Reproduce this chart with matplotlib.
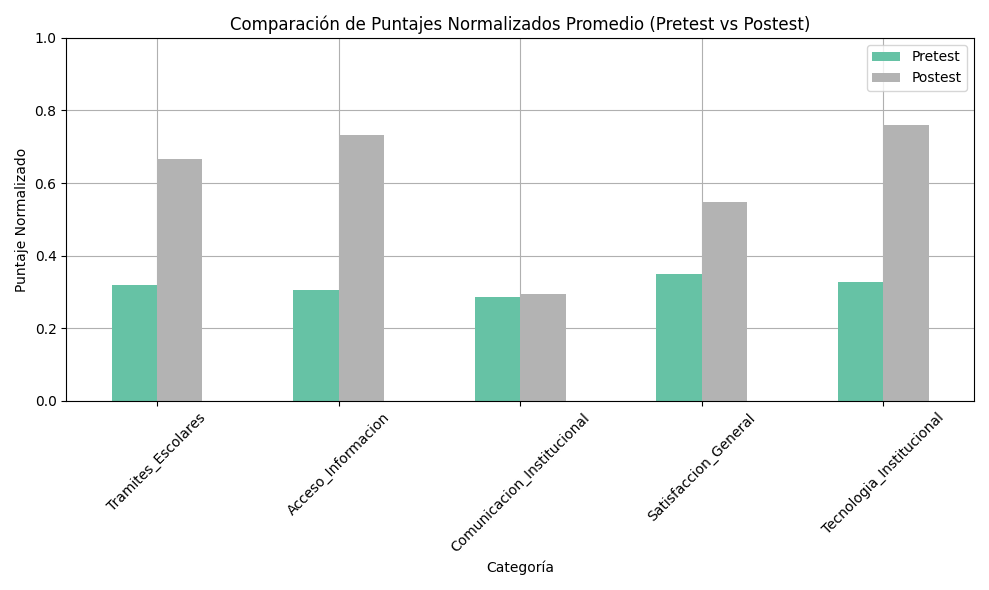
import matplotlib
matplotlib.use("Agg")
import matplotlib.pyplot as plt
import numpy as np

categories = ["Tramites_Escolares", "Acceso_Informacion", "Comunicacion_Institucional",
              "Satisfaccion_General", "Tecnologia_Institucional"]
pretest = [0.319, 0.306, 0.287, 0.349, 0.327]
postest = [0.665, 0.732, 0.295, 0.547, 0.759]

fig, ax = plt.subplots(figsize=(9.89, 5.9), dpi=100)
x = np.arange(len(categories))
w = 0.25
ax.bar(x - w/2, pretest, w, color="#66c2a5", label="Pretest", zorder=2)
ax.bar(x + w/2, postest, w, color="#b3b3b3", label="Postest", zorder=2)
ax.set_xticks(x)
ax.set_xticklabels(categories, rotation=45)
ax.set_xlim(-0.5, len(categories) - 0.5)
ax.set_ylim(0, 1)
ax.grid(True, zorder=0)
ax.set_axisbelow(True)
ax.set_title("Comparación de Puntajes Normalizados Promedio (Pretest vs Postest)")
ax.set_xlabel("Categoría")
ax.set_ylabel("Puntaje Normalizado")
ax.legend(loc="upper right")
fig.tight_layout()
fig.savefig("out.png", dpi=100)
